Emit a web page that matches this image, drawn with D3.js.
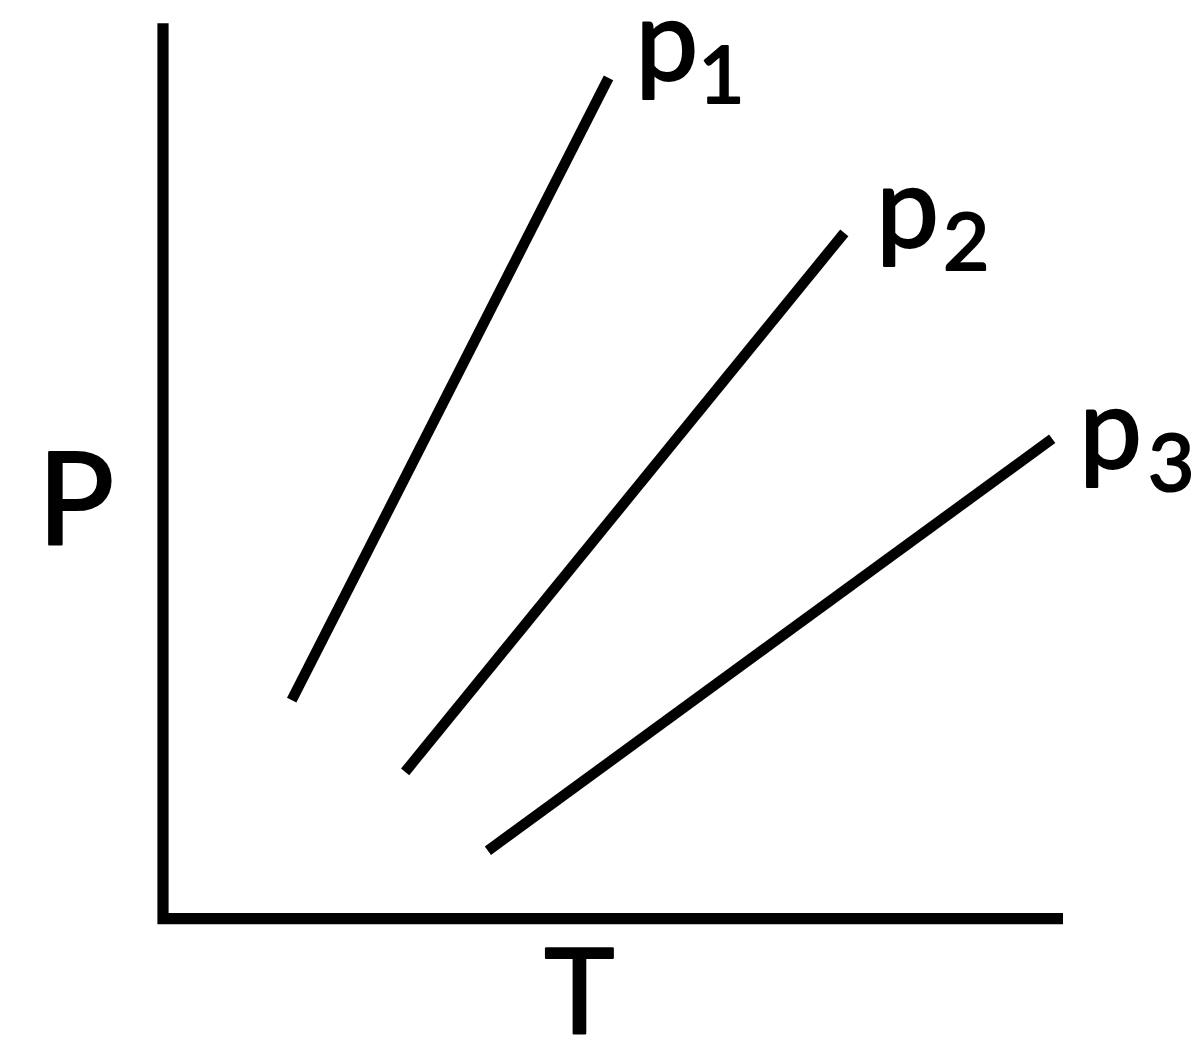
<!DOCTYPE html>
<html>
<head>
<meta charset="utf-8">
<script src="https://cdn.jsdelivr.net/npm/d3@7/dist/d3.min.js"></script>
<style>
  html, body { margin: 0; padding: 0; background: #fff; }
  svg { display: block; }
  text { font-family: Lato, "Open Sans", sans-serif; fill: #000; stroke: #000; stroke-width: 2.2px; stroke-linejoin: round; }
</style>
</head>
<body>
<svg id="chart" width="1200" height="1057"></svg>
<script>
// ---- data (abstract T / P units, 0..100) ----
const seriesNames = ["p", "p", "p"];
const seriesSubs = ["1", "2", "3"];
const startT = [14.3, 26.9, 36.1];
const startP = [24.4, 16.4, 7.6];
const endT = [49.5, 75.7, 98.8];
const endP = [93.9, 76.6, 53.6];
const axisLabels = { x: "T", y: "P" };
const domainT = [0, 100];
const domainP = [0, 100];

// ---- layout ----
const svg = d3.select("#chart");
const x = d3.scaleLinear().domain(domainT).range([163, 1063]);
const y = d3.scaleLinear().domain(domainP).range([918.7, 23.3]);

// axes (L-shape)
const axisPath = d3.path();
axisPath.moveTo(x(domainT[0]), y(domainP[1]));
axisPath.lineTo(x(domainT[0]), y(domainP[0]));
axisPath.lineTo(x(domainT[1]), y(domainP[0]));
svg.append("path")
  .attr("d", axisPath.toString())
  .attr("fill", "none")
  .attr("stroke", "#000")
  .attr("stroke-width", 11.2)
  .attr("stroke-linejoin", "miter")
  .attr("stroke-linecap", "butt");

// lines
const series = seriesSubs.map((s, i) => ({
  name: seriesNames[i], sub: s,
  pts: [[startT[i], startP[i]], [endT[i], endP[i]]]
}));
const line = d3.line().x(d => x(d[0])).y(d => y(d[1]));
svg.selectAll("path.iso").data(series).join("path")
  .attr("class", "iso")
  .attr("d", d => line(d.pts))
  .attr("fill", "none")
  .attr("stroke", "#000")
  .attr("stroke-width", 10.5)
  .attr("stroke-linecap", "butt");

// labels near the upper ends
const labelOffsets = [[27, 2], [32, 14], [27, 29]];
const subDx = [0, 4, 6];
const lbl = svg.selectAll("text.lbl").data(series).join("text")
  .attr("class", "lbl")
  .attr("x", (d, i) => x(d.pts[1][0]) + labelOffsets[i][0])
  .attr("y", (d, i) => y(d.pts[1][1]) + labelOffsets[i][1])
  .style("font-size", "112px");
lbl.append("tspan").text(d => d.name);
lbl.append("tspan")
  .attr("dx", (d, i) => subDx[i])
  .attr("dy", 23)
  .style("font-size", "80px")
  .text(d => d.sub);

// axis titles
svg.append("text")
  .attr("x", 579.5)
  .attr("y", 1033)
  .attr("text-anchor", "middle")
  .style("font-size", "119px")
  .text(axisLabels.x);
svg.append("text")
  .attr("x", 37.5)
  .attr("y", 544)
  .attr("text-anchor", "start")
  .style("font-size", "128px")
  .text(axisLabels.y);
</script>
</body>
</html>
